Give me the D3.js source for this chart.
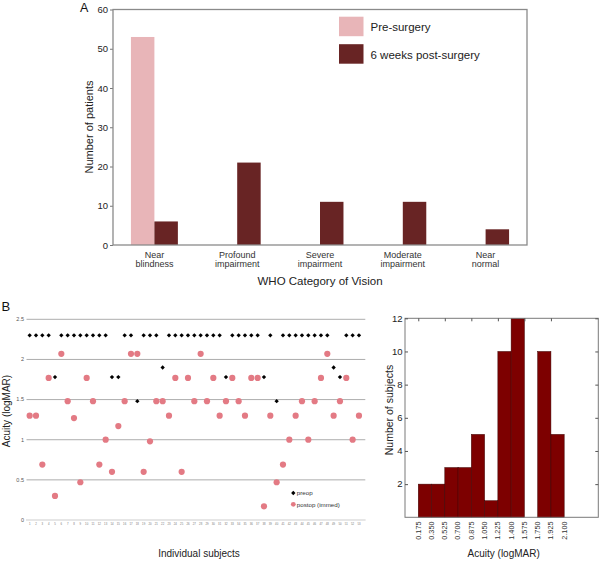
<!DOCTYPE html>
<html lang="en">
<head>
<meta charset="utf-8">
<title>Vision outcomes</title>
<script src="https://d3js.org/d3.v7.min.js"></script>
<style>
  body { margin: 0; background: #fff; }
  svg { display: block; font-family: "Liberation Sans", Arial, Helvetica, sans-serif; }
</style>
</head>
<body>
<script>
// panel A data
var categories = [["Near", "blindness"], ["Profound", "impairment"], ["Severe", "impairment"], ["Moderate", "impairment"], ["Near", "normal"]];
var preSurgery = [53, 0, 0, 0, 0];
var postSurgery = [6, 21, 11, 11, 4];
var yTicksA = [0, 10, 20, 30, 40, 50, 60];

// panel B scatter: one value per subject (logMAR)
var preop = [2.3, 2.3, 2.3, 2.3, 1.78, 2.3, 2.3, 2.3, 2.3, 2.3, 2.3, 2.3, 2.3, 1.78, 1.78, 2.3, 2.3, 1.48,
  2.3, 2.3, 2.3, 1.9, 2.3, 2.3, 2.3, 2.3, 2.3, 2.3, 2.3, 2.3, 2.3, 1.78, 2.3, 2.3, 2.3, 2.3,
  2.3, 1.78, 2.3, 1.48, 2.3, 2.3, 2.3, 2.3, 2.3, 2.3, 2.3, 2.3, 1.9, 1.78, 2.3, 2.3, 2.3];
var postop = [1.3, 1.3, 0.69, 1.77, 0.3, 2.07, 1.48, 1.27, 0.47, 1.77, 1.48, 0.69, 1.0, 0.6, 1.17, 1.48, 2.07, 2.07,
  0.6, 0.98, 1.48, 1.48, 1.3, 1.77, 0.6, 1.77, 1.48, 2.07, 1.48, 1.77, 1.3, 1.48, 1.77, 1.48, 1.3, 1.77,
  1.77, 0.17, 1.3, 0.47, 0.69, 1.0, 1.3, 1.48, 1.0, 1.48, 1.77, 2.07, 1.3, 1.48, 1.77, 1.0, 1.3];
var yTicksB = [0, 0.5, 1, 1.5, 2, 2.5];

// panel B histogram
var binLabels = ["0.175", "0.350", "0.525", "0.700", "0.875", "1.050", "1.225", "1.400", "1.575", "1.750", "1.925", "2.100"];
var binCounts = [2, 2, 3, 3, 5, 1, 10, 12, 0, 10, 5];
var yTicksH = [2, 4, 6, 8, 10, 12];

var width = 600, height = 561;
var pink = "#e8b5b8", maroon = "#682424";

var svg = d3.select("body").append("svg")
  .attr("width", width)
  .attr("height", height);

svg.append("rect").attr("width", width).attr("height", height).attr("fill", "#fff");

// ---------- panel A ----------
var a = { left: 113, right: 527, top: 9.5, bottom: 245 };

var xA = d3.scaleBand()
  .domain(d3.range(categories.length))
  .range([a.left, a.right])
  .paddingInner(0.433)
  .paddingOuter(0.2165);

var yA = d3.scaleLinear().domain([0, 60]).range([a.bottom, a.top]);

var gA = svg.append("g");

gA.append("g")
  .attr("transform", "translate(" + a.left + ",0)")
  .call(d3.axisLeft(yA).tickValues(yTicksA).tickSize(3).tickPadding(2))
  .call(function(g) {
    g.select(".domain").remove();
    g.selectAll("line").attr("stroke", "#777");
    g.selectAll("text").style("font-size", "9.5px").attr("fill", "#222");
  });

var half = xA.bandwidth() / 2;

gA.selectAll(".pre").data(preSurgery).enter().append("rect")
  .attr("class", "pre")
  .attr("x", function(d, i) { return xA(i); })
  .attr("y", function(d) { return yA(d); })
  .attr("width", half)
  .attr("height", function(d) { return yA(0) - yA(d); })
  .attr("fill", pink);

gA.selectAll(".post").data(postSurgery).enter().append("rect")
  .attr("class", "post")
  .attr("x", function(d, i) { return xA(i) + half; })
  .attr("y", function(d) { return yA(d); })
  .attr("width", half)
  .attr("height", function(d) { return yA(0) - yA(d); })
  .attr("fill", maroon);

gA.append("rect")
  .attr("x", a.left).attr("y", a.top)
  .attr("width", a.right - a.left).attr("height", a.bottom - a.top)
  .attr("fill", "none").attr("stroke", "#8a8a8a").attr("stroke-width", 1.3);

var catText = gA.selectAll(".cat").data(categories).enter().append("text")
  .attr("class", "cat")
  .attr("text-anchor", "middle")
  .style("font-size", "9px")
  .attr("fill", "#333");
catText.selectAll("tspan").data(function(d, i) { return d.map(function(s) { return { s: s, i: i }; }); })
  .enter().append("tspan")
  .attr("x", function(d) { return xA(d.i) + xA.bandwidth() / 2; })
  .attr("y", function(d, j) { return 257.5 + j * 9.8; })
  .text(function(d) { return d.s; });

gA.append("text")
  .attr("x", 320).attr("y", 285)
  .attr("text-anchor", "middle")
  .style("font-size", "11.5px")
  .attr("fill", "#222")
  .text("WHO Category of Vision");

gA.append("text")
  .attr("transform", "translate(93,127) rotate(-90)")
  .attr("text-anchor", "middle")
  .style("font-size", "11px")
  .attr("fill", "#222")
  .text("Number of patients");

gA.append("text").attr("x", 80).attr("y", 11.5)
  .style("font-size", "12.5px").attr("fill", "#111").text("A");

// legend
var legA = [{ label: "Pre-surgery", color: pink }, { label: "6 weeks post-surgery", color: maroon }];
var lg = gA.selectAll(".legA").data(legA).enter().append("g")
  .attr("transform", function(d, i) { return "translate(339," + (16.7 + i * 27.5) + ")"; });
lg.append("rect").attr("width", 24.5).attr("height", 19.5).attr("fill", function(d) { return d.color; });
lg.append("text").attr("x", 31.5).attr("y", 14.5)
  .style("font-size", "11.5px").attr("fill", "#222")
  .text(function(d) { return d.label; });

// ---------- panel B: scatter ----------
var xS = d3.scaleLinear().domain([0.5, 54]).range([26.5, 365.3]);
var yS = d3.scaleLinear().domain([0, 2.5]).range([520, 319.3]);
var subjects = d3.range(1, preop.length + 1);

var gS = svg.append("g");

gS.selectAll(".grid").data(yTicksB.slice(1)).enter().append("line")
  .attr("x1", xS.range()[0]).attr("x2", xS.range()[1])
  .attr("y1", function(d) { return yS(d); }).attr("y2", function(d) { return yS(d); })
  .attr("stroke", "#adadad").attr("stroke-width", 1);

gS.append("line")
  .attr("x1", xS.range()[0]).attr("x2", xS.range()[1])
  .attr("y1", yS(0)).attr("y2", yS(0))
  .attr("stroke", "#9a9a9a").attr("stroke-width", 1)
  .attr("stroke-dasharray", "1,1");

gS.selectAll(".ytl").data(yTicksB).enter().append("text")
  .attr("x", 24).attr("y", function(d) { return yS(d) + 1.8; })
  .attr("text-anchor", "end")
  .style("font-size", "5.5px").attr("fill", "#555")
  .text(function(d) { return d; });

gS.selectAll(".xtl").data(subjects).enter().append("text")
  .attr("x", function(d) { return xS(d); }).attr("y", 525)
  .attr("text-anchor", "middle")
  .style("font-size", "2.8px").attr("fill", "#777")
  .text(function(d) { return d; });

var diamond = d3.symbol().type(d3.symbolDiamond2).size(12);

gS.selectAll(".post").data(postop).enter().append("circle")
  .attr("cx", function(d, i) { return xS(i + 1); })
  .attr("cy", function(d) { return yS(d); })
  .attr("r", 3.1)
  .attr("fill", "#e37a84");

gS.selectAll(".pre").data(preop).enter().append("path")
  .attr("d", diamond)
  .attr("transform", function(d, i) { return "translate(" + xS(i + 1) + "," + yS(d) + ")"; })
  .attr("fill", "#000");

// scatter legend
gS.append("path").attr("d", diamond).attr("transform", "translate(293.3,493)").attr("fill", "#000");
gS.append("circle").attr("cx", 293.3).attr("cy", 504.3).attr("r", 2.4).attr("fill", "#e37a84");
gS.append("text").attr("x", 296.8).attr("y", 495.2).style("font-size", "6.2px").attr("fill", "#333").text("preop");
gS.append("text").attr("x", 296.8).attr("y", 506.5).style("font-size", "6.2px").attr("fill", "#333").text("postop (immed)");

gS.append("text")
  .attr("transform", "translate(9.5,411) rotate(-90)")
  .attr("text-anchor", "middle")
  .style("font-size", "10px").attr("fill", "#222")
  .text("Acuity (logMAR)");

gS.append("text").attr("x", 199).attr("y", 557)
  .attr("text-anchor", "middle")
  .style("font-size", "10px").attr("fill", "#222")
  .text("Individual subjects");

gS.append("text").attr("x", 1.5).attr("y", 310.5)
  .style("font-size", "13px").attr("fill", "#111").text("B");

// ---------- panel B: histogram ----------
var h = { left: 405, right: 598.3, top: 318.3, bottom: 517.3 };
var xH = d3.scaleLinear().domain([0, 2.55]).range([h.left, h.right]);
var yH = d3.scaleLinear().domain([0, 12]).range([h.bottom, h.top]);
var edges = binLabels.map(Number);

var gH = svg.append("g");

gH.selectAll(".bar").data(binCounts).enter().append("rect")
  .attr("x", function(d, i) { return xH(edges[i]); })
  .attr("y", function(d) { return yH(d); })
  .attr("width", function(d, i) { return xH(edges[i + 1]) - xH(edges[i]); })
  .attr("height", function(d) { return yH(0) - yH(d); })
  .attr("fill", "#7d0000")
  .attr("stroke", function(d) { return d > 0 ? "#3b0000" : "none"; })
  .attr("stroke-width", 0.5);

gH.append("rect")
  .attr("x", h.left).attr("y", h.top)
  .attr("width", h.right - h.left).attr("height", h.bottom - h.top)
  .attr("fill", "none").attr("stroke", "#7a7a7a").attr("stroke-width", 1);

// inward ticks on all sides
gH.append("g").attr("transform", "translate(" + h.left + ",0)")
  .call(d3.axisRight(yH).tickValues(yTicksH).tickSize(3).tickFormat(""))
  .call(function(g) { g.select(".domain").remove(); g.selectAll("line").attr("stroke", "#555"); });
gH.append("g").attr("transform", "translate(" + h.right + ",0)")
  .call(d3.axisLeft(yH).tickValues(yTicksH).tickSize(3).tickFormat(""))
  .call(function(g) { g.select(".domain").remove(); g.selectAll("line").attr("stroke", "#555"); });
gH.append("g").attr("transform", "translate(0," + h.top + ")")
  .call(d3.axisBottom(xH).tickValues(edges.filter(function(d, i) { return i % 2 === 0; })).tickSize(3).tickFormat(""))
  .call(function(g) { g.select(".domain").remove(); g.selectAll("line").attr("stroke", "#555"); });

gH.selectAll(".hyl").data(yTicksH).enter().append("text")
  .attr("x", h.left - 2.5).attr("y", function(d) { return yH(d) + 3.3; })
  .attr("text-anchor", "end")
  .style("font-size", "9.5px").attr("fill", "#222")
  .text(function(d) { return d; });

gH.selectAll(".hxl").data(binLabels).enter().append("text")
  .attr("transform", function(d, i) { return "translate(" + (xH(edges[i]) + 2.4) + ",521.5) rotate(-90)"; })
  .attr("text-anchor", "end")
  .style("font-size", "7.3px").attr("fill", "#333")
  .text(function(d) { return d; });

gH.append("text")
  .attr("transform", "translate(393,410) rotate(-90)")
  .attr("text-anchor", "middle")
  .style("font-size", "10.5px").attr("fill", "#222")
  .text("Number of subjects");

gH.append("text").attr("x", 503.7).attr("y", 556.7)
  .attr("text-anchor", "middle")
  .style("font-size", "10px").attr("fill", "#222")
  .text("Acuity (logMAR)");
</script>
</body>
</html>
